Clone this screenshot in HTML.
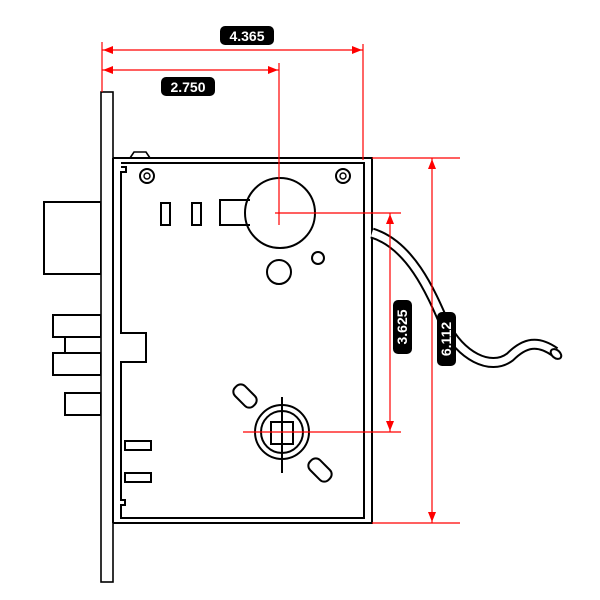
<!DOCTYPE html>
<html><head><meta charset="utf-8"><style>body{margin:0;background:#fff}svg{display:block}text{font-family:"Liberation Sans",sans-serif;font-weight:bold;font-size:14px;fill:#fff}</style></head>
<body>
<svg width="600" height="600" viewBox="0 0 600 600" xmlns="http://www.w3.org/2000/svg">
<g fill="none" stroke="#000" stroke-width="2">
<rect x="44" y="202" width="57" height="72" fill="#fff"/>
<rect x="53" y="315" width="48" height="22"/>
<rect x="53" y="353" width="48" height="22"/>
<line x1="65" y1="337" x2="65" y2="353"/>
<rect x="65" y="393" width="36" height="22"/>
<rect x="101" y="92" width="12" height="490" fill="#fff" stroke-width="1.6"/>
<path d="M113,158 H372 V523 H113" stroke-width="2"/>
<path d="M130,158 L134,152 H146 L150,158" stroke-width="1.6"/>
<path d="M121,163 H364 V518 H121 V505 H125 V500 H121 V362 H146 V333 H121 V172 H126 V167 H121" stroke-width="2"/>
<line x1="113" y1="158" x2="113" y2="523" stroke-width="2"/>
<circle cx="147" cy="176" r="7"/><circle cx="147" cy="176" r="3" stroke-width="1.4"/>
<circle cx="343" cy="176" r="7"/><circle cx="343" cy="176" r="3" stroke-width="1.4"/>
<rect x="161" y="203" width="9" height="22"/>
<rect x="192" y="203" width="9" height="22"/>
<path d="M250,200 H220 V225 H250"/>
<circle cx="280" cy="213" r="35"/>
<rect x="249" y="201" width="2" height="23" fill="#fff" stroke="none"/>
<circle cx="279" cy="272" r="12"/>
<circle cx="318" cy="258" r="6"/>
<circle cx="282" cy="432" r="27"/>
<circle cx="282" cy="432" r="21"/>
<rect x="271" y="422" width="22" height="22"/>
<line x1="282" y1="397" x2="282" y2="473"/>
<rect x="232" y="389" width="26" height="14" rx="6" transform="rotate(45 245 396)"/>
<rect x="307" y="463" width="26" height="14" rx="6" transform="rotate(45 320 470)"/>
<rect x="125" y="441" width="26" height="9"/>
<rect x="125" y="473" width="26" height="9"/>
<path d="M372,233 C410,245 430,290 445,325 C460,355 490,372 510,357 C525,342 538,340 555,352" stroke-width="11"/>
<path d="M372,233 C410,245 430,290 445,325 C460,355 490,372 510,357 C525,342 538,340 555,352" stroke="#fff" stroke-width="7"/>
<ellipse cx="556" cy="354" rx="4" ry="6" transform="rotate(-50 556 354)" fill="#fff"/>
</g>
<g stroke="#f00" stroke-width="1.2" fill="none">
<line x1="102" y1="42" x2="102" y2="92"/>
<line x1="363" y1="44" x2="363" y2="160"/>
<line x1="279" y1="63" x2="279" y2="225"/>
<line x1="102" y1="50" x2="363" y2="50"/>
<line x1="102" y1="70" x2="279" y2="70"/>
<line x1="275" y1="213" x2="401" y2="213"/>
<line x1="243" y1="432" x2="401" y2="432"/>
<line x1="372" y1="158" x2="460" y2="158"/>
<line x1="372" y1="523" x2="460" y2="523"/>
<line x1="390" y1="213" x2="390" y2="432"/>
<line x1="432" y1="158" x2="432" y2="523"/>
</g>
<g fill="#f00">
<path d="M103,50 l10,-4 v8z"/><path d="M362,50 l-10,-4 v8z"/>
<path d="M103,70 l10,-4 v8z"/><path d="M278,70 l-10,-4 v8z"/>
<path d="M390,214 l-4,10 h8z"/><path d="M390,431 l-4,-10 h8z"/>
<path d="M432,159 l-4,10 h8z"/><path d="M432,522 l-4,-10 h8z"/>
</g>
<rect x="220" y="26" width="54" height="19" rx="5" fill="#000"/>
<text x="247" y="41" text-anchor="middle">4.365</text>
<rect x="161" y="77" width="54" height="19" rx="5" fill="#000"/>
<text x="188" y="92" text-anchor="middle">2.750</text>
<rect x="393" y="300" width="19" height="54" rx="5" fill="#000"/>
<text transform="translate(407,327) rotate(-90)" text-anchor="middle">3.625</text>
<rect x="437" y="312" width="19" height="54" rx="5" fill="#000"/>
<text transform="translate(451,339) rotate(-90)" text-anchor="middle">6.112</text>
</svg>
</body></html>
